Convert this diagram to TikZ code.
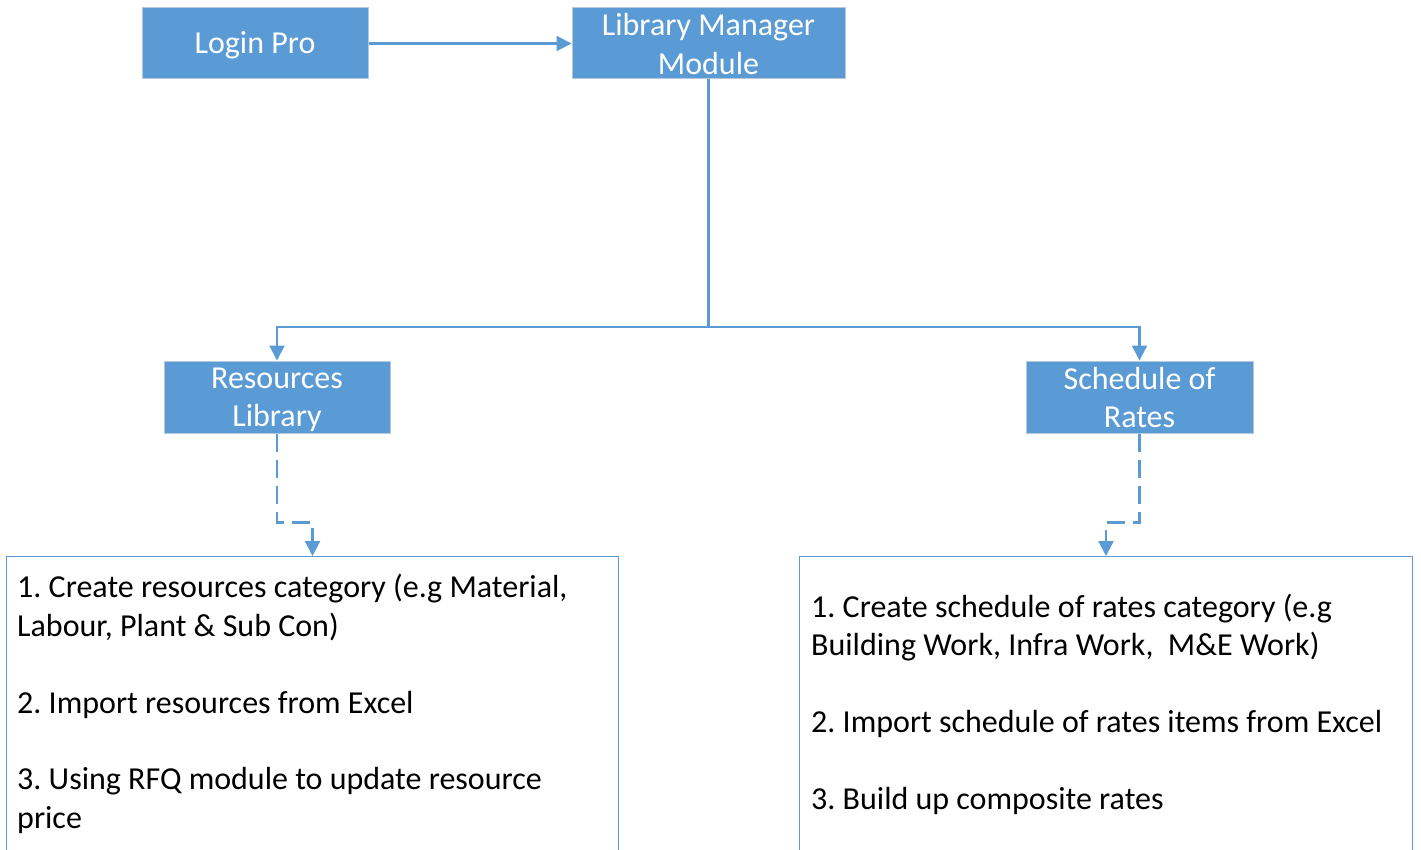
\documentclass[tikz,border=0pt]{standalone}
\usepackage{fontspec}
\setmainfont{Carlito}
\usetikzlibrary{arrows.meta}
\definecolor{blu}{HTML}{5B9BD5}
\definecolor{bord}{HTML}{B8C8DA}
\frenchspacing
\begin{document}
\begin{tikzpicture}[x=1pt,y=-1pt,
  box/.style={draw=bord, line width=1pt, fill=blu, inner sep=0pt},
  boxtxt/.style={text=white, inner sep=0pt, align=center, font=\fontsize{32}{38.5}\selectfont},
  tbox/.style={draw=blu, line width=1pt, inner sep=0pt, anchor=north west},
  line/.style={draw=blu, line width=2.2pt},
  conn/.style={line, -{Triangle[length=15pt,width=15pt]}},
  dconn/.style={conn, dash pattern=on 18pt off 8pt},
  txt/.style={anchor=base west, inner sep=0pt, font=\fontsize{32}{38.5}\selectfont}]
\useasboundingbox (0,0) rectangle (1421,850);
\clip (0,0) rectangle (1421,850);
\fill[white] (0,0) rectangle (1421,850);

\node[box, minimum width=226pt, minimum height=71pt] (login) at (255,43.5) {};
\node[box, minimum width=273pt, minimum height=71pt] (lm) at (708.5,43.5) {};
\node[box, minimum width=226pt, minimum height=72pt] (rl) at (277,397) {};
\node[box, minimum width=227pt, minimum height=72pt] (sr) at (1139.5,397) {};
\node[boxtxt] (logint) at ([yshift=-2pt]login.center) {Login Pro};
\node[boxtxt] (lmt) at ([yshift=-0.5pt]lm.center) {Library Manager\\Module};
\node[boxtxt] (rlt) at ([yshift=-3pt]rl.center) {Resources\\Library};
\node[boxtxt] (srt) at ([yshift=-0.5pt]sr.center) {Schedule of\\Rates};

\node[tbox, minimum width=612pt, minimum height=330pt] (lt) at (6,556) {};
\node[tbox, minimum width=613pt, minimum height=330pt] (rt) at (799,556) {};

\coordinate (junc) at (708.5,327);
\draw[conn] (login.east) -- (lm.west);
\draw[line] (lm.south) -- (junc);
\draw[conn] (junc) -| (rl.north);
\draw[conn] (junc) -| (sr.north);
\draw[dconn] (rl.south) -- ++(0,89) -| (lt.north);
\draw[dconn] (sr.south) -- ++(0,89) -| (rt.north);

\node[txt] (l1) at (17,597) {1. Create resources category (e.g Material,};
\node[txt] (l2) at (17,636) {Labour, Plant \& Sub Con)};
\node[txt] (l3) at (17,713) {2. Import resources from Excel};
\node[txt] (l4) at (17,789) {3. Using RFQ module to update resource};
\node[txt] (l5) at (17,828) {price};

\node[txt] (r1) at (811,617) {1. Create schedule of rates category (e.g};
\node[txt] (r2) at (811,655.5) {Building Work, Infra Work,\ \ M\&E Work)};
\node[txt] (r3) at (811,732) {2. Import schedule of rates items from Excel};
\node[txt] (r4) at (811,809) {3. Build up composite rates};
\end{tikzpicture}
\end{document}
